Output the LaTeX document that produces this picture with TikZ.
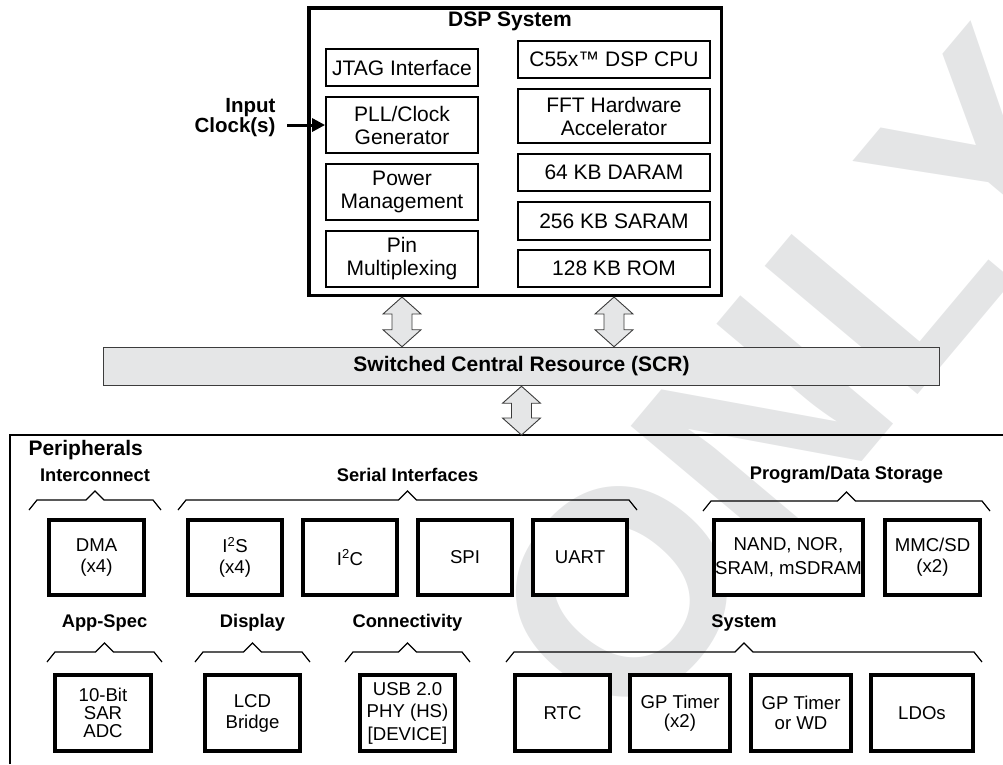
\documentclass[tikz,border=0pt]{standalone}
\usepackage{fontspec}
\setmainfont{Liberation Sans}
\usetikzlibrary{arrows.meta,calc}

\definecolor{scrGray}{RGB}{229,230,231}
\definecolor{markGray}{RGB}{228,229,230}
\definecolor{edgeGray}{RGB}{60,60,60}

\tikzset{
  dspbox/.style = {draw, line width=1.8pt, fill=white, inner sep=0pt, align=center,
                   font=\fontsize{21}{23}\selectfont},
  perbox/.style = {draw, line width=4pt, fill=white, inner sep=0pt, align=center,
                   font=\fontsize{18.6}{21}\selectfont},
  grplabel/.style = {font=\bfseries\fontsize{18.3}{20}\selectfont},
  busfill/.style = {fill=scrGray, draw=edgeGray, line width=0.9pt},
  bracket/.style = {line width=1.2pt}
}

% fat double arrow between two points (top tip, bottom tip)
\newcommand{\busarrow}[2]{%
  \filldraw[busfill] (#1) -- ++(19,17) -- ++(-9,0) -- ($(#2)+(10,-17)$) -- ++(9,0)
    -- (#2) -- ++(-19,-17) -- ++(9,0) -- ($(#1)+(-10,17)$) -- ++(-9,0) -- cycle;}

% group bracket with a peak in the middle
\newcommand{\grpbrace}[3]{%
  \draw[bracket] (#1,#3+10) -- (#1+8,#3) -- ({(#1+#2)/2-9},#3) -- ({(#1+#2)/2},#3-9)
    -- ({(#1+#2)/2+9},#3) -- (#2-8,#3) -- (#2,#3+10);}

\begin{document}
\begin{tikzpicture}[x=1pt, y=-1pt]
  \useasboundingbox (0,0) rectangle (1003,764);

  % watermark
  \begin{scope}
    \clip (0,0) rectangle (1003,764);
    \node[text=markGray, rotate=50, font=\bfseries\fontsize{290}{290}\selectfont] (mark) at (800,380) {ONLY};
  \end{scope}

  % DSP system
  \node[draw, line width=3.5pt, fill=white, inner sep=0pt, minimum width=412.5pt, minimum height=287.5pt] (dsp) at (515,151.5) {};
  \node[font=\bfseries\fontsize{21}{23}\selectfont] (dsptitle) at (510,21) {DSP System};

  \node[dspbox, minimum width=152pt, minimum height=37pt] (jtag) at (402,67.5) {JTAG Interface};
  \node[dspbox, minimum width=152pt, minimum height=56pt] (pll) at (402,125) {PLL/Clock\\Generator};
  \node[dspbox, minimum width=152pt, minimum height=56pt] (power) at (402,192) {Power\\Management};
  \node[dspbox, minimum width=152pt, minimum height=56pt] (pin) at (402,259) {Pin\\Multiplexing};

  \node[dspbox, minimum width=192pt, minimum height=37pt] (cpu) at (614,59.5) {C55x™ DSP CPU};
  \node[dspbox, minimum width=192pt, minimum height=54pt] (fft) at (614,116) {FFT Hardware\\Accelerator};
  \node[dspbox, minimum width=192pt, minimum height=37pt] (daram) at (614,172.5) {64 KB DARAM};
  \node[dspbox, minimum width=192pt, minimum height=38pt] (saram) at (614,221) {256 KB SARAM};
  \node[dspbox, minimum width=192pt, minimum height=37pt] (rom) at (614,268.5) {128 KB ROM};

  \node[anchor=east, align=right, font=\bfseries\fontsize{20.5}{20}\selectfont] (clkin) at (279,118) {Input\\Clock(s)};
  \draw[line width=3pt, -{Triangle[length=13pt,width=13pt]}] ($(clkin.east |- pll.west)+(8,0)$) -- (pll.west);

  % SCR
  \node[draw=edgeGray, line width=1.5pt, fill=scrGray, minimum width=836pt, minimum height=38pt,
        font=\bfseries\fontsize{21}{23}\selectfont] (scr) at (521.5,366.5) {Switched Central Resource (SCR)};

  \busarrow{jtag |- dsp.south}{jtag |- scr.north}
  \busarrow{cpu |- dsp.south}{cpu |- scr.north}

  % peripherals
  \coordinate (pertop) at (scr.south |- 0,435);
  \draw[line width=2.2pt] (10,764) |- (1003,435);
  \busarrow{scr.south}{pertop}
  \node[anchor=west, font=\bfseries\fontsize{21}{23}\selectfont] (perttl) at (25,450) {Peripherals};

  \foreach \xa/\xb/\yb/\yl/\txt in {29/161/500/475/Interconnect, 178/637/500/475/Serial Interfaces,
      703/990/501/475/{Program/Data Storage}, 47/162/652/623/App-Spec, 195/310/652/623/Display,
      345/470/652/623/Connectivity, 506/982/652/623/System}{
    \grpbrace{\xa}{\xb}{\yb}
    \node[grplabel] (grp-\xa-\yb) at ({(\xa+\xb)/2},\yl) {\txt};
  }

  \node[perbox, minimum width=95pt, minimum height=75pt] (dma) at (96.5,557.5) {DMA\\(x4)};
  \node[perbox, minimum width=94pt, minimum height=75pt] (iis) at (235,557.5) {I\textsuperscript{2}S\\(x4)};
  \node[perbox, minimum width=94pt, minimum height=75pt] (iic) at (350,557.5) {I\textsuperscript{2}C};
  \node[perbox, minimum width=94pt, minimum height=75pt] (spi) at (465,557.5) {SPI};
  \node[perbox, minimum width=94pt, minimum height=75pt] (uart) at (580,557.5) {UART};
  \node[perbox, minimum width=149pt, minimum height=75pt, font=\fontsize{18.6}{24}\selectfont] (nand) at (788.5,557.5) {NAND, NOR,\\SRAM, mSDRAM};
  \node[perbox, minimum width=95pt, minimum height=75pt] (mmc) at (932.5,557.5) {MMC/SD\\(x2)};

  \node[perbox, minimum width=96pt, minimum height=76pt, font=\fontsize{18.6}{18}\selectfont] (adc) at (103,713) {10-Bit\\SAR\\ADC};
  \node[perbox, minimum width=95pt, minimum height=76pt] (lcd) at (252.5,713) {LCD\\Bridge};
  \node[perbox, minimum width=95pt, minimum height=76pt, font=\fontsize{18.6}{22.5}\selectfont] (usb) at (407.5,713) {USB 2.0\\PHY (HS)\\{[DEVICE]}};
  \node[perbox, minimum width=95pt, minimum height=76pt] (rtc) at (562.5,713) {RTC};
  \node[perbox, minimum width=100pt, minimum height=76pt, font=\fontsize{18.6}{19.5}\selectfont] (gpt) at (680,713) {GP Timer\\(x2)};
  \node[perbox, minimum width=100pt, minimum height=76pt, font=\fontsize{18.6}{19.5}\selectfont] (wdt) at (801,713) {GP Timer\\or WD};
  \node[perbox, minimum width=102pt, minimum height=76pt] (ldo) at (922,713) {LDOs};
\end{tikzpicture}
\end{document}
